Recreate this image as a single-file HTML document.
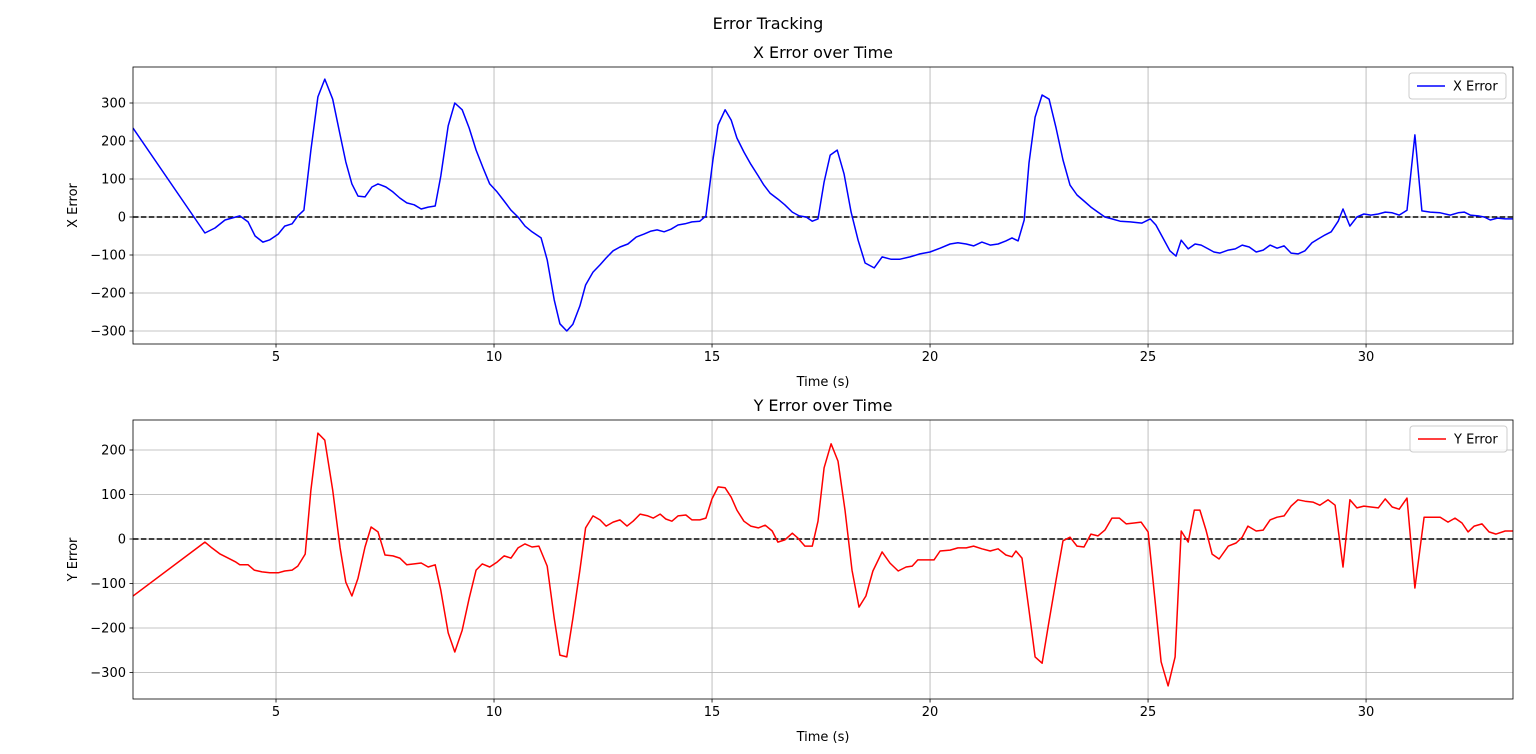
<!DOCTYPE html>
<html><head><meta charset="utf-8"><style>
html,body{margin:0;padding:0;background:#fff;}
svg{display:block;font-family:"DejaVu Sans","Liberation Sans",sans-serif;}
</style></head><body>
<svg id="fig" width="1536" height="754" viewBox="0 0 1536 754" xmlns="http://www.w3.org/2000/svg">
<rect width="1536" height="754" fill="#fff"/>
<text x="768" y="29" text-anchor="middle" font-size="16">Error Tracking</text>
</svg>
<script>
const xTimes = [1.72,3.37,3.6,3.83,4.17,4.36,4.52,4.7,4.86,5.05,5.2,5.37,5.5,5.64,5.8,5.96,6.12,6.3,6.47,6.6,6.74,6.88,7.04,7.2,7.34,7.52,7.68,7.84,8.0,8.17,8.33,8.49,8.65,8.78,8.95,9.1,9.27,9.43,9.59,9.75,9.9,10.07,10.23,10.39,10.55,10.71,10.87,11.08,11.22,11.38,11.51,11.67,11.81,11.97,12.1,12.27,12.43,12.57,12.73,12.89,13.07,13.26,13.44,13.6,13.74,13.9,14.06,14.22,14.38,14.54,14.72,14.86,15.02,15.14,15.3,15.44,15.57,15.73,15.89,16.06,16.19,16.33,16.51,16.67,16.84,17.0,17.16,17.3,17.43,17.57,17.71,17.87,18.03,18.19,18.35,18.51,18.72,18.9,19.1,19.31,19.54,19.77,20.0,20.23,20.46,20.64,20.83,21.0,21.19,21.38,21.56,21.74,21.88,22.02,22.16,22.27,22.41,22.57,22.73,22.89,23.05,23.21,23.37,23.53,23.69,23.85,24.01,24.17,24.36,24.59,24.86,25.05,25.18,25.34,25.5,25.64,25.76,25.92,26.08,26.22,26.38,26.51,26.65,26.84,27.0,27.16,27.32,27.48,27.64,27.8,27.96,28.12,28.28,28.44,28.6,28.76,28.9,29.06,29.2,29.36,29.47,29.63,29.79,29.95,30.11,30.28,30.44,30.6,30.76,30.94,31.12,31.28,31.47,31.7,31.93,32.11,32.25,32.39,32.57,32.71,32.85,33.01,33.19,33.37];
const xErrors = [234,-42,-29,-8,3,-13,-50,-66,-60,-45,-24,-18,3,18,176,316,363,310,216,145,87,55,53,79,87,79,66,50,37,32,21,26,29,108,240,300,282,234,176,129,87,66,42,18,0,-24,-39,-55,-113,-218,-281,-300,-282,-234,-179,-145,-126,-108,-89,-79,-71,-53,-45,-37,-34,-39,-32,-21,-18,-13,-11,3,150,242,282,255,208,171,139,108,84,63,47,32,13,3,0,-11,-5,92,163,176,113,13,-61,-121,-134,-105,-111,-111,-105,-97,-92,-82,-71,-68,-71,-76,-66,-74,-71,-63,-55,-63,-8,142,263,321,310,234,150,84,58,42,26,13,0,-5,-11,-13,-16,-5,-21,-55,-89,-103,-61,-84,-71,-74,-84,-92,-95,-87,-84,-74,-79,-92,-87,-74,-82,-76,-95,-97,-89,-68,-58,-47,-39,-11,21,-24,0,8,5,8,13,11,5,18,216,16,13,11,5,11,13,5,3,0,-8,-3,-5,-5];
const yTimes = [1.72,3.37,3.53,3.72,3.9,4.08,4.17,4.36,4.5,4.68,4.86,5.05,5.2,5.37,5.5,5.67,5.8,5.96,6.12,6.3,6.47,6.6,6.74,6.88,7.04,7.18,7.34,7.5,7.68,7.84,8.0,8.17,8.33,8.49,8.65,8.78,8.95,9.1,9.27,9.43,9.59,9.73,9.9,10.07,10.23,10.39,10.55,10.71,10.87,11.03,11.22,11.38,11.51,11.67,11.81,11.97,12.1,12.27,12.43,12.57,12.73,12.89,13.05,13.19,13.35,13.53,13.65,13.81,13.94,14.08,14.22,14.4,14.54,14.72,14.86,15.0,15.14,15.3,15.44,15.57,15.73,15.89,16.06,16.22,16.38,16.51,16.67,16.84,16.97,17.13,17.3,17.43,17.57,17.73,17.89,18.05,18.21,18.37,18.53,18.69,18.9,19.08,19.27,19.45,19.59,19.72,19.91,20.09,20.23,20.46,20.64,20.83,21.0,21.19,21.38,21.56,21.74,21.88,21.97,22.11,22.27,22.41,22.57,22.73,22.89,23.05,23.21,23.37,23.53,23.69,23.85,24.01,24.17,24.34,24.5,24.68,24.84,25.0,25.16,25.3,25.46,25.62,25.76,25.92,26.06,26.19,26.33,26.47,26.63,26.84,27.02,27.16,27.29,27.48,27.64,27.8,27.96,28.12,28.28,28.44,28.6,28.78,28.94,29.13,29.29,29.47,29.63,29.79,29.95,30.11,30.28,30.44,30.6,30.76,30.94,31.12,31.33,31.51,31.7,31.88,32.04,32.2,32.34,32.48,32.66,32.82,32.98,33.19,33.37];
const yErrors = [-128,-7,-20,-34,-43,-52,-58,-58,-70,-74,-76,-76,-72,-70,-61,-34,110,238,222,110,-20,-97,-128,-88,-18,27,16,-36,-38,-43,-58,-56,-54,-63,-58,-115,-211,-254,-205,-133,-70,-56,-63,-52,-38,-43,-20,-11,-18,-16,-61,-178,-261,-265,-178,-70,25,52,43,29,38,43,29,40,56,52,47,56,45,40,52,54,43,43,47,90,117,115,94,65,40,29,25,31,18,-7,-2,13,2,-16,-16,40,160,214,175,65,-70,-153,-128,-72,-29,-54,-72,-63,-61,-47,-47,-47,-27,-25,-20,-20,-16,-22,-27,-22,-36,-40,-27,-43,-160,-265,-279,-184,-92,-4,4,-16,-18,11,7,20,47,47,34,36,38,16,-137,-276,-330,-265,18,-7,65,65,20,-34,-45,-16,-9,4,29,18,20,43,49,52,74,88,85,83,76,88,76,-63,88,70,74,72,70,90,72,67,92,-110,49,49,49,38,47,36,16,29,34,16,11,18,18];
const xTickVals = [5,10,15,20,25,30];
const topYTicks = [-300,-200,-100,0,100,200,300];
const botYTicks = [-300,-200,-100,0,100,200];

const NS = "http://www.w3.org/2000/svg";
const svg = document.getElementById('fig');
function mk(tag, attrs, parent){const e=document.createElementNS(NS,tag);for(const k in attrs)e.setAttribute(k,attrs[k]);(parent||svg).appendChild(e);return e;}

const L=133,R=1513,TMIN=1.72,TMAX=33.37;
const sx = t => L + (t-TMIN)/(TMAX-TMIN)*(R-L);

function panel(cfg){
  const g = mk('g',{});
  
  
  const sy = v => cfg.zeroY - v*cfg.k;
  // grid
  xTickVals.forEach(t=>{
    const l=mk('line',{x1:sx(t),x2:sx(t),y1:cfg.top,y2:cfg.bot,stroke:'#b0b0b0','stroke-width':0.8},g);
    
    
  });
  cfg.yticks.forEach(v=>{
    const l=mk('line',{x1:L,x2:R,y1:sy(v),y2:sy(v),stroke:'#b0b0b0','stroke-width':0.8},g);
    
    
  });
  // zero line
  const z=mk('line',{x1:L,x2:R,y1:sy(0),y2:sy(0),stroke:'#000','stroke-width':1.5,'stroke-dasharray':'5.5,2.4'},g);
  
  
  // series
  const d = cfg.t.map((t,i)=>(i?'L':'M')+sx(t).toFixed(1)+','+sy(cfg.v[i]).toFixed(1)).join('');
  const cp = mk('clipPath',{id:'clip-'+cfg.name},g);
  mk('rect',{x:L,y:cfg.top,width:R-L,height:cfg.bot-cfg.top},cp);
  const p=mk('path',{d:d,fill:'none',stroke:cfg.color,'stroke-width':1.5,'clip-path':'url(#clip-'+cfg.name+')','stroke-linejoin':'round'},g);
  
  
  // frame
  const f=mk('rect',{x:L,y:cfg.top,width:R-L,height:cfg.bot-cfg.top,fill:'none',stroke:'#000','stroke-width':0.8},g);
  
  
  // x ticks
  xTickVals.forEach(t=>{
    mk('line',{x1:sx(t),x2:sx(t),y1:cfg.bot,y2:cfg.bot+3.5,stroke:'#000','stroke-width':0.8},g);
    const tx=mk('text',{x:sx(t),y:cfg.bot+17,'text-anchor':'middle','font-size':13},g);
    tx.textContent=t;
    
    
  });
  cfg.yticks.forEach(v=>{
    mk('line',{x1:L-3.5,x2:L,y1:sy(v),y2:sy(v),stroke:'#000','stroke-width':0.8},g);
    const tx=mk('text',{x:L-7,y:sy(v)+4.5,'text-anchor':'end','font-size':13},g);
    tx.textContent=v<0?'\u2212'+(-v):v;
    
    
  });
  const xl=mk('text',{x:(L+R)/2,y:cfg.bot+42,'text-anchor':'middle','font-size':13},g);
  xl.textContent='Time (s)';
  
  
  const yl=mk('text',{x:0,y:0,'text-anchor':'middle','font-size':13,transform:'translate(77,'+((cfg.top+cfg.bot)/2)+') rotate(-90)'},g);
  yl.textContent=cfg.ylabel;
  
  
  const ti=mk('text',{x:(L+R)/2,y:cfg.top-9,'text-anchor':'middle','font-size':16},g);
  ti.textContent=cfg.title;
  
  
  // legend
  const lg=mk('g',{},g);
  
  
  mk('rect',{x:cfg.lx,y:cfg.top+6,width:97,height:26,rx:3,fill:'#fff','fill-opacity':0.8,stroke:'#ccc','stroke-width':1},lg);
  mk('line',{x1:cfg.lx+8,x2:cfg.lx+36,y1:cfg.top+19,y2:cfg.top+19,stroke:cfg.color,'stroke-width':1.5},lg);
  const lt=mk('text',{x:cfg.lx+44,y:cfg.top+23.5,'font-size':13},lg);
  lt.textContent=cfg.legend;
  
  
}
panel({name:'x-error-panel',top:67,bot:344,zeroY:217,k:0.38,yticks:topYTicks,t:xTimes,v:xErrors,color:'#0000ff',seriesName:'x-error-line',ylabel:'X Error',title:'X Error over Time',legend:'X Error',lx:1409});
panel({name:'y-error-panel',top:420,bot:699,zeroY:539,k:0.445,yticks:botYTicks,t:yTimes,v:yErrors,color:'#ff0000',seriesName:'y-error-line',ylabel:'Y Error',title:'Y Error over Time',legend:'Y Error',lx:1410});
</script>
</body></html>
